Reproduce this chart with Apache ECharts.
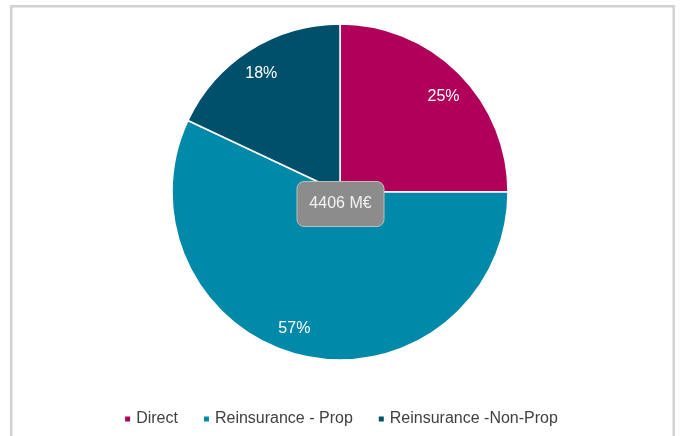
<!DOCTYPE html>
<html>
<head>
<meta charset="utf-8">
<script src="https://cdn.jsdelivr.net/npm/echarts@6/dist/echarts.min.js"></script>
<style>
html,body{margin:0;padding:0;background:#fff;}
#c{width:681px;height:436px;}
</style>
</head>
<body>
<div id="c"></div>
<script>
const categories = ["Direct", "Reinsurance - Prop", "Reinsurance -Non-Prop"];
const shares = [25, 57, 18];
const colors = ["#B0005A", "#0089A9", "#004F6B"];
const totalLabel = "4406 M€";

const FONT = "'Liberation Sans', Arial, sans-serif";
const labelNudges = [[1, 7], [-14, -5], [-1, 4]];
const chart = echarts.init(document.getElementById('c'), null, {renderer: 'canvas'});
const pieData = categories.map((n, i) => ({name: n, value: shares[i], itemStyle: {color: colors[i]}}));

chart.setOption({
  animation: false,
  backgroundColor: '#ffffff',
  legend: {
    data: categories,
    bottom: 4,
    left: 'center',
    icon: 'rect',
    itemWidth: 7,
    itemHeight: 7,
    itemGap: 24,
    textStyle: {color: '#404040', fontSize: 16, fontFamily: FONT}
  },
  graphic: [{
    type: 'rect',
    shape: {x: 11.25, y: 6.25, width: 662.5, height: 440},
    style: {fill: 'none', stroke: '#d2d2d2', lineWidth: 2.5},
    silent: true, z: 100
  }],
  title: {
    text: totalLabel,
    left: 'center',
    top: 181,
    padding: [14, 13, 14, 13],
    backgroundColor: '#8c8c8c',
    borderColor: '#bdbdbd',
    borderWidth: 1,
    borderRadius: 7,
    textStyle: {color: '#f2f2f2', fontSize: 16, fontWeight: 'normal', fontFamily: FONT, lineHeight: 18},
    z: 10
  },
  series: [
    {
      type: 'pie',
      center: [340, 192],
      radius: [0, 168],
      startAngle: 90,
      clockwise: true,
      data: pieData,
      label: {show: false},
      labelLine: {show: false},
      itemStyle: {borderColor: '#ffffff', borderWidth: 1.5},
      emphasis: {disabled: true},
      silent: true
    },
    {
      type: 'pie',
      center: [340, 192],
      radius: [116, 168],
      startAngle: 90,
      clockwise: true,
      data: categories.map((n, i) => ({name: n, value: shares[i], label: {offset: labelNudges[i]}})),
      itemStyle: {color: 'rgba(0,0,0,0)'},
      label: {show: true, position: 'inside', formatter: '{d}%', color: '#ffffff', fontSize: 16, fontFamily: FONT},
      labelLine: {show: false},
      emphasis: {disabled: true},
      silent: true,
      legendHoverLink: false
    }
  ]
});
</script>
</body>
</html>
